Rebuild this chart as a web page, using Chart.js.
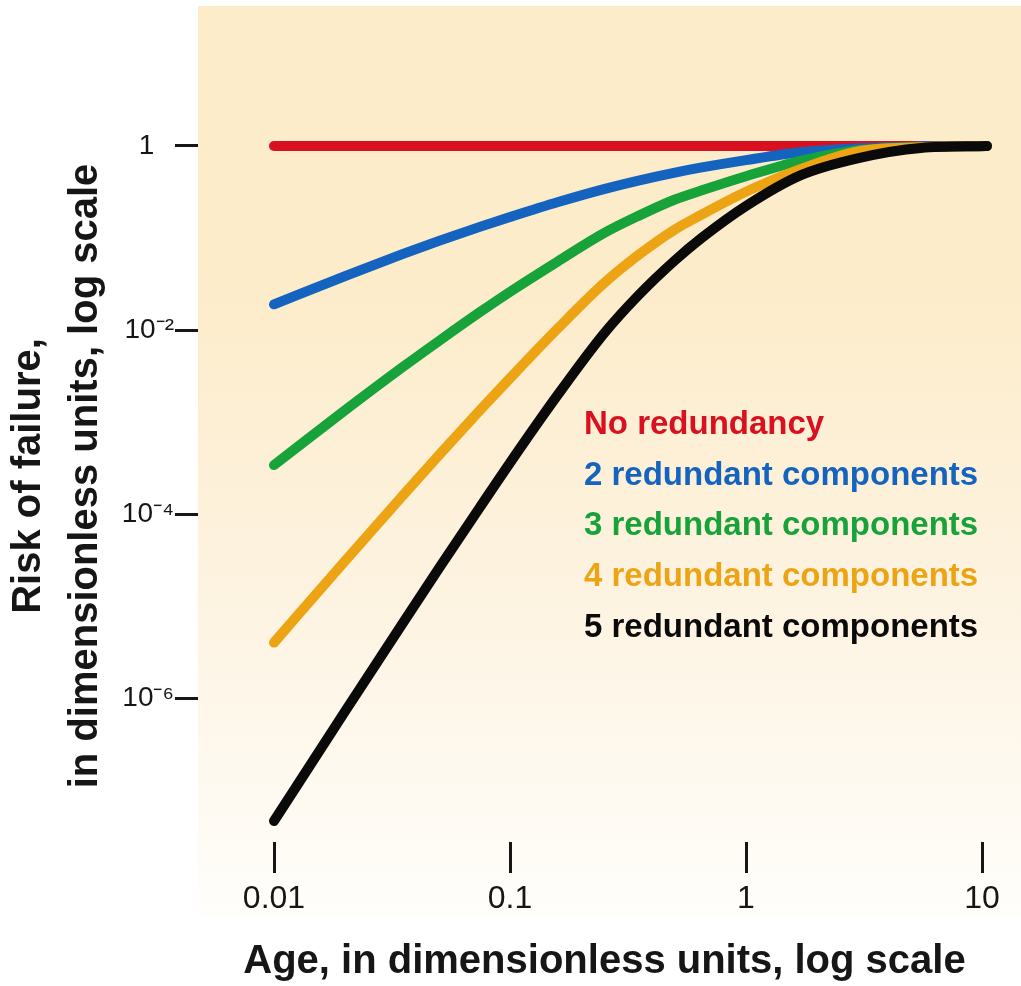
<!DOCTYPE html>
<html>
<head>
<meta charset="utf-8">
<title>Risk of failure vs age</title>
<script src="https://cdn.jsdelivr.net/npm/chart.js"></script>
<style>
  html, body { margin: 0; padding: 0; background: #ffffff; }
  #wrap { width: 1021px; height: 986px; position: relative; }
</style>
</head>
<body>
<div id="wrap"><canvas id="riskChart"></canvas></div>
<script>
const ages = [0.01, 0.02, 0.035, 0.05, 0.075, 0.1, 0.16, 0.25, 0.35, 0.5, 0.65, 1, 1.7, 3, 5.5, 10.5];

const noRedundancy = [1, 1, 1, 1, 1, 1, 1, 1, 1, 1, 1, 1, 1, 1, 1, 1];
const redundant2 = [0.019, 0.0385, 0.0667, 0.093, 0.133, 0.169, 0.246, 0.340, 0.421, 0.514, 0.585, 0.703, 0.855, 0.946, 0.986, 1];
const redundant3 = [3.4e-4, 1.34e-3, 3.93e-3, 7.6e-3, 0.0158, 0.026, 0.056, 0.113, 0.174, 0.262, 0.33, 0.47, 0.69, 0.90, 0.975, 1];
const redundant4 = [4.0e-6, 3.09e-5, 1.57e-4, 4.37e-4, 1.36e-3, 2.99e-3, 0.0105, 0.0322, 0.0653, 0.124, 0.18, 0.318, 0.56, 0.88, 0.97, 1];
const redundant5 = [4.6e-8, 7.16e-7, 6.43e-6, 2.57e-5, 1.21e-4, 3.6e-4, 2.0e-3, 9.14e-3, 0.0238, 0.0571, 0.1005, 0.223, 0.48, 0.74, 0.953, 1];

const seriesLabels = [
    'No redundancy',
    '2 redundant components',
    '3 redundant components',
    '4 redundant components',
    '5 redundant components'
];
const seriesColors = ['#d8101f', '#1464bf', '#18a23a', '#eda414', '#0a0a0a'];

const xTicks = [0.01, 0.1, 1, 10];
const xTickLabels = ['0.01', '0.1', '1', '10'];
const yTicks = [1e-6, 1e-4, 1e-2, 1];
const yTickLabels = ['10\u207B\u2076', '10\u207B\u2074', '10\u207B\u00B2', '1\u2002\u2009'];

const FONT = "'Liberation Sans', Arial, sans-serif";
const INK = '#161616';

function toPoints(values) {
    return ages.map((age, i) => ({ x: age, y: values[i] }));
}

const panelPlugin = {
    id: 'panel',
    beforeDraw(chart, args, opts) {
        const ctx = chart.ctx;
        const left = chart.chartArea.left;
        const grad = ctx.createLinearGradient(0, opts.top, 0, opts.bottom);
        grad.addColorStop(0, '#fdecca');
        grad.addColorStop(0.3, '#fdecca');
        grad.addColorStop(0.65, '#fdf3e1');
        grad.addColorStop(1, '#fffefb');
        ctx.save();
        ctx.fillStyle = grad;
        ctx.fillRect(left, opts.top, chart.width - left, opts.bottom - opts.top);
        ctx.restore();
    }
};

const textLegendPlugin = {
    id: 'textLegend',
    afterDatasetsDraw(chart, args, opts) {
        const ctx = chart.ctx;
        ctx.save();
        ctx.font = 'bold 33px ' + FONT;
        ctx.textAlign = 'left';
        ctx.textBaseline = 'middle';
        chart.data.datasets.forEach((ds, i) => {
            ctx.fillStyle = ds.borderColor;
            ctx.fillText(ds.label, opts.x, opts.y + i * opts.step);
        });
        ctx.restore();
    }
};

const seriesValues = [noRedundancy, redundant2, redundant3, redundant4, redundant5];
const datasets = seriesValues.map((values, i) => ({
    label: seriesLabels[i],
    data: toPoints(values),
    borderColor: seriesColors[i],
    backgroundColor: seriesColors[i],
    borderWidth: 10,
    borderCapStyle: 'round',
    borderJoinStyle: 'round',
    pointRadius: 0,
    cubicInterpolationMode: 'monotone',
    fill: false,
    order: seriesValues.length - i
}));

// pixel layout of the original: x decade = 236px, 0.01 at 274; y decade = 92px, 1 at 146
const xMin = Math.pow(10, -2 - 76 / 236);
const xMax = Math.pow(10, 1 + 29 / 236);
const yMax = Math.pow(10, 36 / 92);
const yMin = Math.pow(10, -696 / 92);

let ctx = document.getElementById('riskChart').getContext('2d');
let chart = new Chart(ctx, {
    type: 'line',
    data: { datasets: datasets },
    plugins: [panelPlugin, textLegendPlugin],
    options: {
        responsive: true,
        maintainAspectRatio: false,
        animation: false,
        events: [],
        layout: { padding: { top: 110, right: 10, left: 0, bottom: 0 } },
        plugins: {
            legend: { display: false },
            tooltip: { enabled: false },
            panel: { top: 6, bottom: 917 },
            textLegend: { x: 584, y: 425, step: 50.7 }
        },
        scales: {
            x: {
                type: 'logarithmic',
                position: 'bottom',
                min: xMin,
                max: xMax,
                afterBuildTicks: (axis) => { axis.ticks = xTicks.map(v => ({ value: v })); },
                afterFit: (axis) => { axis.height = 144; },
                border: { display: false },
                grid: {
                    drawOnChartArea: false,
                    drawTicks: true,
                    tickLength: 31,
                    tickWidth: 3,
                    tickColor: INK
                },
                ticks: {
                    autoSkip: false,
                    maxRotation: 0,
                    padding: 7,
                    color: INK,
                    font: { family: FONT, size: 32 },
                    callback: (value) => {
                        const i = xTicks.indexOf(value);
                        return i >= 0 ? xTickLabels[i] : '';
                    }
                },
                title: {
                    display: true,
                    text: 'Age, in dimensionless units, log scale',
                    color: INK,
                    font: { family: FONT, size: 40, weight: 'bold', lineHeight: 1.2 },
                    padding: { top: 0, bottom: 0 }
                }
            },
            y: {
                type: 'logarithmic',
                position: 'left',
                min: yMin,
                max: yMax,
                afterBuildTicks: (axis) => { axis.ticks = yTicks.map(v => ({ value: v })); },
                afterFit: (axis) => { axis.width = 198; },
                border: { display: false },
                grid: {
                    drawOnChartArea: false,
                    drawTicks: true,
                    tickLength: 23,
                    tickWidth: 3,
                    tickColor: INK
                },
                ticks: {
                    autoSkip: false,
                    padding: 1,
                    color: INK,
                    font: { family: FONT, size: 28 },
                    callback: (value) => {
                        const i = yTicks.findIndex(v => Math.abs(Math.log10(v) - Math.log10(value)) < 1e-6);
                        return i >= 0 ? yTickLabels[i] : '';
                    }
                },
                title: {
                    display: true,
                    text: ['Risk of failure,', 'in dimensionless units, log scale'],
                    color: INK,
                    font: { family: FONT, size: 40, weight: 'bold', lineHeight: 1.425 },
                    padding: { top: 0, bottom: 0 }
                }
            }
        }
    }
});
</script>
</body>
</html>
